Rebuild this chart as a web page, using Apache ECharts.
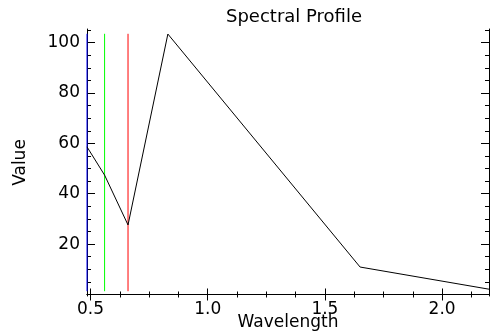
<!DOCTYPE html>
<html>
<head>
<meta charset="utf-8">
<script src="https://cdn.jsdelivr.net/npm/echarts@6/dist/echarts.min.js"></script>
<style>
  html, body { margin: 0; padding: 0; background: #fff; }
  #chart { width: 490px; height: 335px; }
</style>
</head>
<body>
<div id="chart"></div>
<script>
// spectral profile data
var wavelengths = [0.485, 0.56, 0.66, 0.83, 1.65, 2.2];
var values = [58.6, 47.4, 27.6, 103.4, 10.9, 2.1];

// band marker lines (blue, green, red)
var bandWavelengths = [0.485, 0.56, 0.66];
var bandColors = ['#0000ff', '#00ff00', '#ff0000'];
var bandLow = 1.3;
var bandHigh = 103.5;

// axis ranges and ticks
var xMin = 0.485, xMax = 2.2;
var yMin = -0.6, yMax = 105.4;
var xMajor = [0.5, 1.0, 1.5, 2.0];
var xMinor = [0.625, 0.75, 0.875, 1.125, 1.25, 1.375, 1.625, 1.75, 1.875, 2.125];
var yMajor = [0, 20, 40, 60, 80, 100];
var yLabels = [20, 40, 60, 80, 100];
var yMinor = [5, 10, 15, 25, 30, 35, 45, 50, 55, 65, 70, 75, 85, 90, 95, 105];

var font = 'DejaVu Sans';
var black = '#000';

function xAxis(pos, ticks, len, main) {
    return {
        type: 'value',
        position: pos,
        min: xMin,
        max: xMax,
        name: main && pos === 'bottom' ? 'Wavelength' : '',
        nameLocation: 'middle',
        nameGap: 18,
        nameMoveOverlap: false,
        nameTextStyle: { color: black, fontFamily: font, fontSize: 17 },
        axisLine: { show: main, lineStyle: { color: black, width: 1 } },
        axisTick: { show: true, inside: true, length: len, customValues: ticks, lineStyle: { color: black } },
        axisLabel: {
            show: main && pos === 'bottom',
            customValues: xMajor,
            margin: 5,
            color: black,
            fontFamily: font,
            fontSize: 17,
            formatter: function (v) { return v.toFixed(1); }
        },
        splitLine: { show: false }
    };
}

function yAxis(pos, ticks, len, main) {
    return {
        type: 'value',
        position: pos,
        min: yMin,
        max: yMax,
        name: main && pos === 'left' ? 'Value' : '',
        nameLocation: 'middle',
        nameGap: 58,
        nameMoveOverlap: false,
        nameTextStyle: { color: black, fontFamily: font, fontSize: 17 },
        axisLine: { show: main, lineStyle: { color: black, width: 1 } },
        axisTick: { show: true, inside: true, length: len, customValues: ticks, lineStyle: { color: black } },
        axisLabel: {
            show: main && pos === 'left',
            customValues: yLabels,
            margin: 7,
            color: black,
            fontFamily: font,
            fontSize: 17
        },
        splitLine: { show: false }
    };
}

var chart = echarts.init(document.getElementById('chart'), null, { renderer: 'canvas' });

var series = [];
bandWavelengths.forEach(function (w, i) {
    series.push({
        type: 'line',
        data: [[w, bandLow], [w, bandHigh]],
        symbol: 'none',
        lineStyle: { color: bandColors[i], width: 1 },
        silent: true,
        animation: false
    });
});
series.push({
    name: 'Spectrum',
    type: 'line',
    data: wavelengths.map(function (w, i) { return [w, values[i]]; }),
    symbol: 'none',
    lineStyle: { color: black, width: 1 },
    animation: false
});

chart.setOption({
    animation: false,
    title: {
        text: 'Spectral Profile',
        left: 289,
        textAlign: 'center',
        top: 3,
        textStyle: { color: black, fontFamily: font, fontSize: 18, fontWeight: 'normal', letterSpacing: 0.5 }
    },
    grid: { left: 87, right: 1, top: 29, bottom: 39, outerBoundsMode: 'none' },
    xAxis: [
        xAxis('bottom', xMajor, 6, true),
        xAxis('bottom', xMinor, 3, false),
        xAxis('top', xMajor, 6, true),
        xAxis('top', xMinor, 3, false)
    ],
    yAxis: [
        yAxis('left', yMajor, 8, true),
        yAxis('left', yMinor, 4, false),
        yAxis('right', yMajor, 8, true),
        yAxis('right', yMinor, 4, false)
    ],
    series: series
});
</script>
</body>
</html>
